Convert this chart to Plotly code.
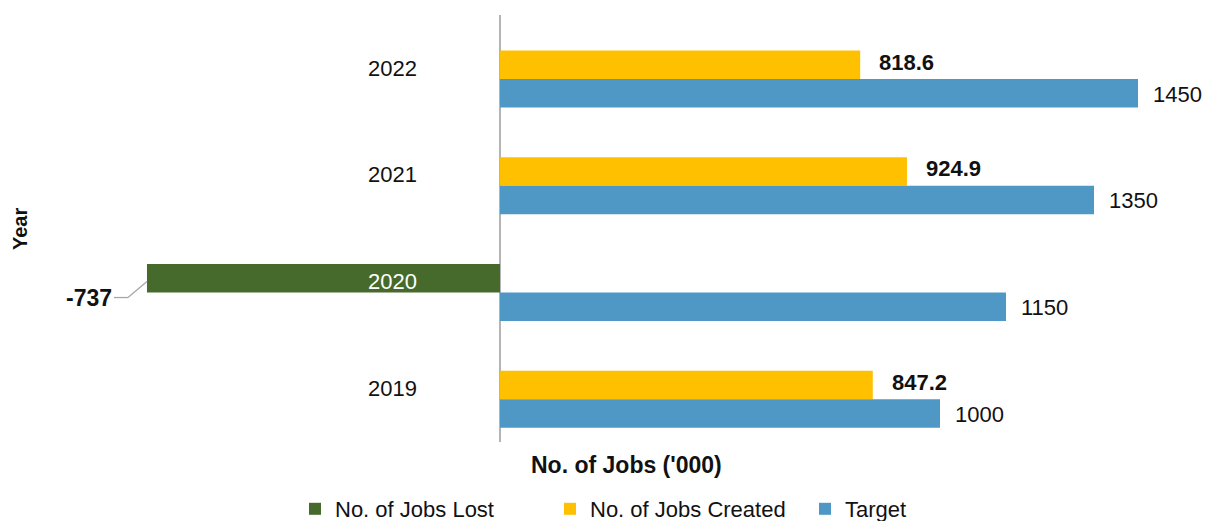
import plotly.graph_objects as go

# ---- data ----
years = ["2019", "2020", "2021", "2022"]
jobs_lost = [None, -737, None, None]
jobs_created = [847.2, None, 924.9, 818.6]
target = [1000, 1150, 1350, 1450]

GREEN = "#466a2c"
YELLOW = "#ffc000"
BLUE = "#4f98c6"
LEADER = "#a6a6a6"
FONT = "Liberation Sans, Arial, Helvetica, sans-serif"
BAR_W = 0.267

fig = go.Figure()
fig.add_trace(go.Bar(
    name="No. of Jobs Lost", y=years, x=jobs_lost, orientation="h",
    xaxis="x2", yaxis="y", marker=dict(color=GREEN, line=dict(width=0)),
    width=BAR_W, offset=0, hoverinfo="x+y"))
fig.add_trace(go.Bar(
    name="No. of Jobs Created", y=years, x=jobs_created, orientation="h",
    marker=dict(color=YELLOW, line=dict(width=0)),
    width=BAR_W, offset=0, hoverinfo="x+y"))
fig.add_trace(go.Bar(
    name="Target", y=years, x=target, orientation="h",
    marker=dict(color=BLUE, line=dict(width=0)),
    width=BAR_W, offset=-BAR_W, hoverinfo="x+y"))

annotations = []
shapes = []
# category labels next to the zero line (y given as category index)
for i, (yr, lost) in enumerate(zip(years, jobs_lost)):
    annotations.append(dict(
        x=0, y=i, xref="x", yref="y", text=yr, showarrow=False,
        xanchor="right", yanchor="middle", xshift=-81, yshift=11,
        font=dict(family=FONT, size=22, color="white" if lost is not None else "#111111")))
# created labels
for i, v in enumerate(jobs_created):
    if v is None:
        continue
    annotations.append(dict(
        x=v, y=i, xref="x", yref="y", text=f"<b>{v:.1f}</b>", showarrow=False,
        xanchor="left", yanchor="middle", xshift=17, yshift=17,
        font=dict(family=FONT, size=22, color="#111111")))
# target labels
for i, v in enumerate(target):
    annotations.append(dict(
        x=v, y=i, xref="x", yref="y", text=f"{v:g}", showarrow=False,
        xanchor="left", yanchor="middle", xshift=13, yshift=-15,
        font=dict(family=FONT, size=22, color="#111111")))
# lost label with bent leader line
for i, v in enumerate(jobs_lost):
    if v is None:
        continue
    annotations.append(dict(
        x=v, y=i, xref="x2", yref="y", text=f"<b>{v:g}</b>", showarrow=False,
        xanchor="right", yanchor="middle", xshift=-33, yshift=-5,
        font=dict(family=FONT, size=23, color="#111111")))
    for (px0, py0, px1, py1) in [(-33, -5, -19, -5), (-19, -5, 0, 11)]:
        shapes.append(dict(
            type="line", xref="x2", yref="y",
            xsizemode="pixel", xanchor=v, x0=px0, x1=px1,
            ysizemode="pixel", yanchor=i, y0=py0, y1=py1,
            line=dict(color=LEADER, width=1.3)))
# axis titles
annotations.append(dict(
    x=(626 - 60) / 1144, y=(442 - 465) / 427, xref="paper", yref="paper",
    text="<b>No. of Jobs ('000)</b>", showarrow=False, xanchor="center", yanchor="middle",
    font=dict(family=FONT, size=23, color="#111111")))
annotations.append(dict(
    x=(20 - 60) / 1144, y=(442 - 229) / 427, xref="paper", yref="paper",
    text="<b>Year</b>", showarrow=False, xanchor="center", yanchor="middle", textangle=-90,
    font=dict(family=FONT, size=20, color="#111111")))

fig.update_layout(
    template="none",
    width=1207, height=521,
    margin=dict(l=60, r=3, t=15, b=79, autoexpand=False),
    paper_bgcolor="white", plot_bgcolor="white",
    barmode="overlay",
    xaxis=dict(range=[-1000, 1600], showticklabels=False, showgrid=False, ticks="",
               zeroline=True, zerolinecolor="#b4b4b4", zerolinewidth=2, showline=False),
    xaxis2=dict(range=[-918.6, 1469.8], overlaying="x", anchor="y", side="top",
                visible=False, showgrid=False, zeroline=False),
    yaxis=dict(type="category", categoryorder="array", categoryarray=years,
               range=[-0.4, 3.6], showticklabels=False, showgrid=False, ticks="",
               zeroline=False, showline=False),
    legend=dict(orientation="h", x=(295 - 60) / 1144, y=(442 - 509) / 427,
                xanchor="left", yanchor="middle", entrywidth=210, entrywidthmode="pixels",
                font=dict(family=FONT, size=22, color="#111111"), bgcolor="rgba(0,0,0,0)"),
    annotations=annotations,
    shapes=shapes,
    showlegend=True,
)

fig.write_html("out.html", config={"displayModeBar": False},
               post_script="document.body.style.margin='0px';")
